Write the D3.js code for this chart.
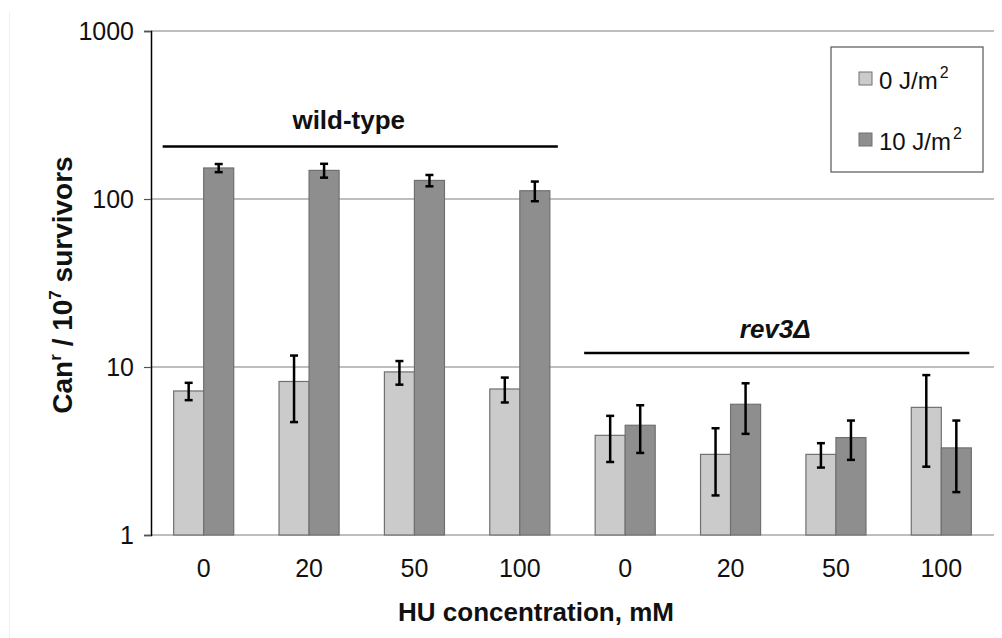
<!DOCTYPE html>
<html>
<head>
<meta charset="utf-8">
<script src="https://cdn.jsdelivr.net/npm/d3@7"></script>
<style>
  body { margin: 0; background: #fff; }
  svg { display: block; font-family: "Liberation Sans", Arial, sans-serif; }
</style>
</head>
<body>
<svg id="chart" width="1002" height="638"></svg>
<script>
// data
const huLabels = ["0", "20", "50", "100", "0", "20", "50", "100"];
const strainGroups = [
  {name: "wild-type", from: 0, to: 3, italic: false},
  {name: "rev3Δ", from: 4, to: 7, italic: true}
];
const dose0 = [7.2, 8.2, 9.35, 7.4, 3.92, 3.02, 3.02, 5.75];
const dose0Err = [0.85, 3.5, 1.5, 1.25, 1.2, 1.3, 0.5, 3.2];
const dose10 = [153, 148, 129, 112, 4.5, 6.0, 3.8, 3.3];
const dose10Err = [8.5, 14, 10, 15, 1.42, 2.0, 1.0, 1.5];
const keys = ["0 J/m", "10 J/m"];
const yTicks = [1, 10, 100, 1000];

const margin = {top: 31, right: 8, bottom: 103, left: 151};
const width = 1002 - margin.left - margin.right;
const height = 638 - margin.top - margin.bottom;

const colors = {"0 J/m": "#cbcbcb", "10 J/m": "#8e8e8e"};

const rows = huLabels.map((d, i) => ({
  idx: i,
  values: [
    {key: keys[0], v: dose0[i], e: dose0Err[i]},
    {key: keys[1], v: dose10[i], e: dose10Err[i]}
  ]
}));

const svg = d3.select('#chart');

// faint frame edge on the left
svg.append('line')
  .attr('x1', 9.5).attr('x2', 9.5).attr('y1', 12).attr('y2', 638)
  .attr('stroke', '#f0f0f0');

const chart = svg.append('g')
  .attr('transform', `translate(${margin.left}, ${margin.top})`);

const xScale = d3.scaleBand()
  .domain(d3.range(huLabels.length))
  .range([0, width])
  .paddingInner(0.43)
  .paddingOuter(0.215);

const xScale2 = d3.scaleBand()
  .domain(keys)
  .range([0, xScale.bandwidth()]);

const yScale = d3.scaleLog()
  .domain([1, 1000])
  .range([height, 0]);

// grid lines
chart.append('g')
  .selectAll('line')
  .data(yTicks)
  .join('line')
    .attr('x1', 0)
    .attr('x2', width)
    .attr('y1', d => yScale(d))
    .attr('y2', d => yScale(d))
    .attr('stroke', '#a8a8a8')
    .attr('stroke-width', 1.5);

// bars
const groups = chart.append('g')
  .selectAll('g')
  .data(rows)
  .join('g')
    .attr('transform', d => `translate(${xScale(d.idx)},0)`);

groups.selectAll('rect')
  .data(d => d.values)
  .join('rect')
    .attr('x', d => xScale2(d.key))
    .attr('y', d => yScale(d.v))
    .attr('width', xScale2.bandwidth())
    .attr('height', d => height - yScale(d.v))
    .attr('fill', d => colors[d.key])
    .attr('stroke', '#707070')
    .attr('stroke-width', 1.2);

// error bars
const err = groups.selectAll('g.err')
  .data(d => d.values)
  .join('g')
    .attr('class', 'err')
    .attr('transform', d => `translate(${xScale2(d.key) + xScale2.bandwidth() / 2},0)`);

err.append('line')
  .attr('y1', d => yScale(d.v + d.e))
  .attr('y2', d => yScale(d.v - d.e))
  .attr('stroke', '#000')
  .attr('stroke-width', 2.5);

err.selectAll('line.cap')
  .data(d => [d.v + d.e, d.v - d.e])
  .join('line')
    .attr('class', 'cap')
    .attr('x1', -4).attr('x2', 4)
    .attr('y1', d => yScale(d))
    .attr('y2', d => yScale(d))
    .attr('stroke', '#000')
    .attr('stroke-width', 2.5);

// y axis
const yAxis = chart.append('g')
  .call(d3.axisLeft(yScale).tickValues(yTicks).tickFormat(d3.format('d')).tickSizeOuter(0).tickSize(7));
yAxis.select('.domain').attr('stroke', '#000').attr('stroke-width', 1.5);
yAxis.selectAll('.tick line').attr('stroke', '#555').attr('stroke-width', 1.2);
yAxis.selectAll('.tick text')
  .attr('x', -17)
  .attr('font-size', 25)
  .attr('font-family', '"Liberation Sans", Arial, sans-serif')
  .attr('fill', '#111');

// x axis labels
const xAxis = chart.append('g')
  .attr('transform', `translate(0, ${height})`)
  .call(d3.axisBottom(xScale).tickFormat(i => huLabels[i]).tickSize(0));
xAxis.select('.domain').remove();
xAxis.selectAll('.tick text')
  .attr('dy', 0)
  .attr('y', 42)
  .attr('font-size', 25)
  .attr('font-family', '"Liberation Sans", Arial, sans-serif')
  .attr('fill', '#111');

// strain brackets
const strain = chart.append('g')
  .selectAll('g')
  .data(strainGroups)
  .join('g');

const lineY = {"wild-type": 115.5, "rev3Δ": 322};
strain.append('line')
  .attr('x1', d => xScale(d.from) - 11)
  .attr('x2', d => xScale(d.to) + xScale.bandwidth() + (d.italic ? -2 : 8))
  .attr('y1', d => lineY[d.name])
  .attr('y2', d => lineY[d.name])
  .attr('stroke', '#000')
  .attr('stroke-width', 2.5);

strain.append('text')
  .attr('x', d => (xScale(d.from) + xScale(d.to) + xScale.bandwidth()) / 2 - (d.italic ? 8 : 13))
  .attr('y', d => lineY[d.name] - (d.italic ? 15 : 18))
  .attr('text-anchor', 'middle')
  .attr('font-size', 26)
  .attr('font-weight', 'bold')
  .attr('font-style', d => d.italic ? 'italic' : 'normal')
  .attr('fill', '#111')
  .text(d => d.name);

// axis titles
svg.append('text')
  .attr('transform', 'translate(72, 285) rotate(-90)')
  .attr('text-anchor', 'middle')
  .attr('font-size', 28)
  .attr('font-weight', 'bold')
  .attr('fill', '#111')
  .call(t => {
    t.append('tspan').text('Can');
    t.append('tspan').attr('font-size', 17).attr('dy', -11).text('r');
    t.append('tspan').attr('dy', 11).text(' / 10');
    t.append('tspan').attr('font-size', 17).attr('dy', -11).text('7');
    t.append('tspan').attr('dy', 11).text(' survivors');
  });

svg.append('text')
  .attr('x', 536)
  .attr('y', 621)
  .attr('text-anchor', 'middle')
  .attr('font-size', 26)
  .attr('font-weight', 'bold')
  .attr('fill', '#111')
  .text('HU concentration, mM');

// legend
const legend = svg.append('g').attr('transform', 'translate(831, 47)');
legend.append('rect')
  .attr('width', 152).attr('height', 125)
  .attr('fill', '#fff')
  .attr('stroke', '#555')
  .attr('stroke-width', 1.2);

const items = legend.selectAll('g')
  .data(keys)
  .join('g')
    .attr('transform', (d, i) => `translate(28, ${25 + i * 61})`);

items.append('rect')
  .attr('width', 13).attr('height', 13)
  .attr('fill', d => colors[d])
  .attr('stroke', '#707070');

items.append('text')
  .attr('x', 20)
  .attr('y', 17)
  .attr('font-size', 24)
  .attr('fill', '#111')
  .call(t => {
    t.append('tspan').text(d => d);
    t.append('tspan').attr('font-size', 16).attr('dy', -11).attr('dx', 2).text('2');
  });
</script>
</body>
</html>
